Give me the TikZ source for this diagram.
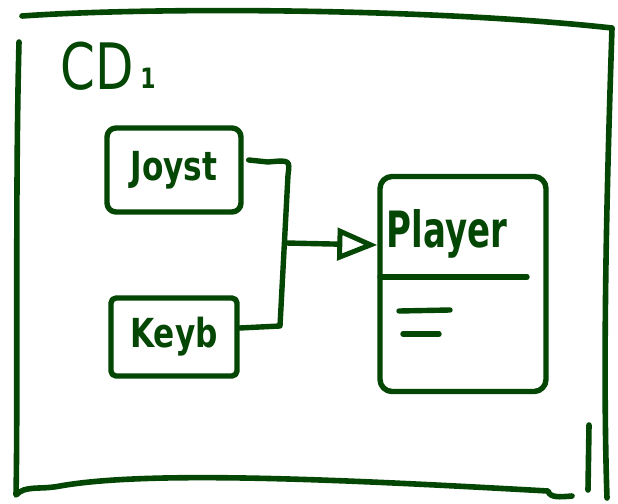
\documentclass[tikz,border=0pt]{standalone}
\usepackage{fontspec}
\setmainfont{DejaVu Sans}
\usetikzlibrary{arrows.meta}
\definecolor{ink}{RGB}{4,70,4}
\newcommand{\narrow}[1]{\scalebox{0.78}[1]{#1}}
\begin{document}
\begin{tikzpicture}[x=1pt,y=-1pt, line width=5.4pt, draw=ink, text=ink,
  line cap=round, line join=round,
  box/.style={draw, rounded corners=9pt, inner sep=0pt},
  lbl/.style={font=\bfseries\fontsize{40}{42}\selectfont},
  frame/.style={draw, line width=5.6pt}]
\fill[white] (0,0) rectangle (618,503);
\useasboundingbox (0,0) rectangle (618,503);
% outer frame
\draw[frame] (22,16) .. controls (150,7) and (430,8) .. (612,28)
  .. controls (608,150) and (602,350) .. (607,498);
\draw[frame] (19,42) .. controls (15,200) and (18,400) .. (16,495)
  .. controls (25,485) and (40,490) .. (60,486)
  .. controls (150,470) and (350,480) .. (548,491)
  .. controls (550,498) and (560,497) .. (572,496);
\draw[frame] (589,425) -- (588,490);
% title
\node[font=\fontsize{64}{66}\selectfont] (title) at (97,66) {\narrow{CD}};
\node[font=\bfseries\fontsize{28}{30}\selectfont, anchor=west, inner sep=0pt] (sub) at ([xshift=-2pt, yshift=-12pt]title.east) {\narrow{1}};
% boxes
\node[box, minimum width=134pt, minimum height=84pt] (joy) at (174,170) {};
\node[lbl] at (joy.center) {\narrow{Joyst}};
\node[box, rounded corners=5pt, minimum width=126pt, minimum height=78pt] (key) at (174,337) {};
\node[lbl] at (key.center) {\narrow{Keyb}};
% player class
\node[draw, rounded corners=12pt, minimum width=166pt, minimum height=215pt, inner sep=0pt] (player) at (463,284) {};
\coordinate (sepL) at (380,277);
\coordinate (sepR) at (527,277);
\draw (sepL) -- (sepR);
\node[font=\bfseries\fontsize{50}{52}\selectfont] (pname) at (447,234) {\scalebox{0.68}[1]{Player}};
\coordinate (a1) at (399,311); \coordinate (a2) at (450,310);
\coordinate (b1) at (403,334); \coordinate (b2) at (439,334);
\draw (a1) -- (a2);
\draw (b1) -- (b2);
% connectors
\coordinate (jn) at (286,243);
\draw (joy.east) ++(5,-10) coordinate (js) -- (268,162) .. controls (290,160) .. (288,175) -- (280,326) -- (key.east |- 0,328);
\draw[-{Triangle[open, length=40pt, width=32pt, line width=5pt]}] (jn) -- (player.west |- 0,245);
\end{tikzpicture}
\end{document}
